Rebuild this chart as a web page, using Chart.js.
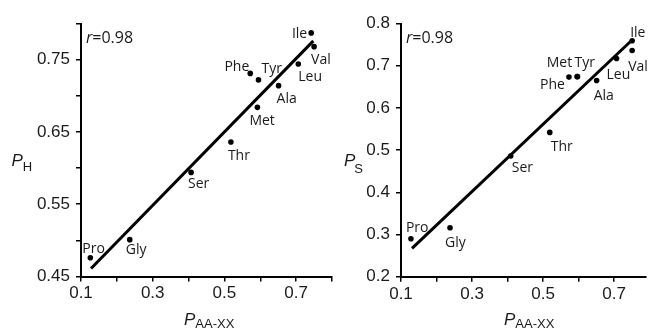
<!DOCTYPE html>
<html><head><meta charset="utf-8">
<script src="https://cdn.jsdelivr.net/npm/chart.js@4.4.1/dist/chart.umd.min.js"></script>
<style>
html,body{margin:0;padding:0;background:#fff;width:650px;height:329px;overflow:hidden}
#wrapL{position:absolute;left:0;top:0;width:336px;height:329px}
#wrapR{position:absolute;left:336px;top:0;width:314px;height:329px}
canvas{display:block}
</style></head><body>
<div id="wrapL"><canvas id="cL" width="336" height="329"></canvas></div>
<div id="wrapR"><canvas id="cR" width="314" height="329"></canvas></div>
<script>
// ---------- data ----------
const aminoAcids = ['Ile','Val','Leu','Phe','Tyr','Ala','Met','Thr','Ser','Gly','Pro'];
const pAAXX_H = [0.742,0.750,0.706,0.572,0.595,0.651,0.592,0.518,0.407,0.236,0.126];
const pH      = [0.787,0.768,0.744,0.731,0.722,0.714,0.684,0.636,0.594,0.501,0.476];
const pAAXX_S = [0.751,0.751,0.707,0.573,0.597,0.651,0.596,0.519,0.409,0.238,0.128];
const pS      = [0.759,0.736,0.717,0.673,0.674,0.665,0.674,0.542,0.486,0.316,0.290];
const fitH_x = [0.128, 0.748];
const fitH_y = [0.461, 0.776];
const fitS_x = [0.131, 0.747];
const fitS_y = [0.267, 0.758];
const rValue = '0.98';
const xTicks      = [0.1,0.2,0.3,0.4,0.5,0.6,0.7,0.8];
const xTickLabels = ['0.1','','0.3','','0.5','','0.7',''];
const yTicksH      = [0.45,0.50,0.55,0.60,0.65,0.70,0.75,0.80];
const yTickLabelsH = ['0.45','','0.55','','0.65','','0.75',''];
const yTicksS      = [0.2,0.3,0.4,0.5,0.6,0.7,0.8];
const yTickLabelsS = ['0.2','0.3','0.4','0.5','0.6','0.7','0.8'];

// ---------- label placement (style, not data) ----------
const placeH = [[-4,5,'right'],[-3,17,'left'],[0,17,'left'],[-1,-2,'right'],[3,-7,'left'],
  [-2,17,'left'],[-8,18,'left'],[-3,18,'left'],[-3,16,'left'],[-4,14,'left'],[-8,-5,'left']];
const placeS = [[-2,-4,'left'],[-4,20,'left'],[-10,20,'left'],[-4,12,'right'],[-3,-10,'left'],
  [-3,20,'left'],[-5,-10,'right'],[1,19,'left'],[1,16,'left'],[-5,19,'left'],[-5,-7,'left']];

const INK = '#1a1a1a';
const tickFont = {family:'"Liberation Sans", Arial, sans-serif', size:17};

const annot = {
  id:'annot',
  afterDatasetsDraw(chart, args, o){
    const ctx = chart.ctx;
    const meta = chart.getDatasetMeta(1);
    ctx.save();
    ctx.fillStyle = INK;
    ctx.textBaseline = 'alphabetic';
    ctx.font = '14px "Open Sans", "Noto Sans", sans-serif';
    aminoAcids.forEach((n,i)=>{
      const el = meta.data[i]; const p = o.place[i];
      ctx.textAlign = p[2];
      ctx.fillText(n, el.x + p[0], el.y + p[1]);
    });
    // r = value
    ctx.textAlign = 'left';
    let x = o.r[0];
    ctx.font = 'italic 16px "Open Sans", "Noto Sans", sans-serif';
    ctx.fillText('r', x, o.r[1]);
    x += ctx.measureText('r').width;
    ctx.font = '16px "Open Sans", "Noto Sans", sans-serif';
    ctx.fillText('=' + rValue, x, o.r[1]);
    // axis titles
    const drawTitle = (main, sub, pos) => {
      ctx.font = 'italic 17px "Liberation Sans", Arial, sans-serif';
      ctx.fillText(main, pos[0], pos[1]);
      const w = ctx.measureText(main).width;
      ctx.font = '13px "Liberation Sans", Arial, sans-serif';
      ctx.fillText(sub, pos[0] + w + pos[2], pos[1] + pos[3]);
    };
    drawTitle('P', o.ySub, o.yTitle);
    drawTitle('P', 'AA-XX', o.xTitle);
    ctx.restore();
  }
};

function makeChart(id, xs, ys, fx, fy, yT, yL, yMin, yMax, xMax, yW, xH, padR, place, rPos, ySub, yTitle, xTitle){
  const pts = xs.map((v,i)=>({x:v, y:ys[i]}));
  const fit = fx.map((v,i)=>({x:v, y:fy[i]}));
  return new Chart(document.getElementById(id), {
    type:'scatter',
    data:{datasets:[
      {type:'line', data:fit, borderColor:'#000', borderWidth:3, pointRadius:0, showLine:true, fill:false},
      {data:pts, backgroundColor:'#000', borderWidth:0, pointRadius:2.8}
    ]},
    options:{
      responsive:false, animation:false, devicePixelRatio:1,
      layout:{padding:{left:0,right:padR,top:23.5,bottom:0}},
      plugins:{legend:{display:false}, tooltip:{enabled:false},
        annot:{place, r:rPos, ySub, yTitle, xTitle}},
      scales:{
        x:{type:'linear', min:0.1, max:xMax,
          afterFit:s=>{s.height = xH;},
          afterBuildTicks:s=>{s.ticks = xTicks.filter(v=>v<=xMax+1e-9).map(v=>({value:v}));},
          ticks:{font:tickFont, color:INK, padding:2, maxRotation:0, autoSkip:false,
            callback:(v)=>{const i = xTicks.findIndex(t=>Math.abs(t-v)<1e-6); return i>=0?xTickLabels[i]:'';}},
          grid:{drawOnChartArea:false, drawTicks:true, tickLength:5, color:'#000', lineWidth:1.5},
          border:{display:true, color:'#000', width:2}},
        y:{type:'linear', min:yMin, max:yMax,
          afterFit:s=>{s.width = yW;},
          afterBuildTicks:s=>{s.ticks = yT.map(v=>({value:v}));},
          ticks:{font:tickFont, color:INK, padding:6, autoSkip:false,
            callback:(v)=>{const i = yT.findIndex(t=>Math.abs(t-v)<1e-6); return i>=0?yL[i]:'';}},
          grid:{drawOnChartArea:false, drawTicks:true, tickLength:5, color:'#000', lineWidth:1.5},
          border:{display:true, color:'#000', width:2}}
      }
    },
    plugins:[annot]
  });
}

makeChart('cL', pAAXX_H, pH, fitH_x, fitH_y, yTicksH, yTickLabelsH, 0.45, 0.80, 0.80, 81, 52.5, 3.5,
  placeH, [86,43], 'H', [11.5,166,0,5], [184,325,0,3]);
makeChart('cR', pAAXX_S, pS, fitS_x, fitS_y, yTicksS, yTickLabelsS, 0.2, 0.8, 0.79, 65, 52.3, 0,
  placeS, [70,43], 'S', [8,166,-1,7], [168,325,0,3]);
</script>
</body></html>
